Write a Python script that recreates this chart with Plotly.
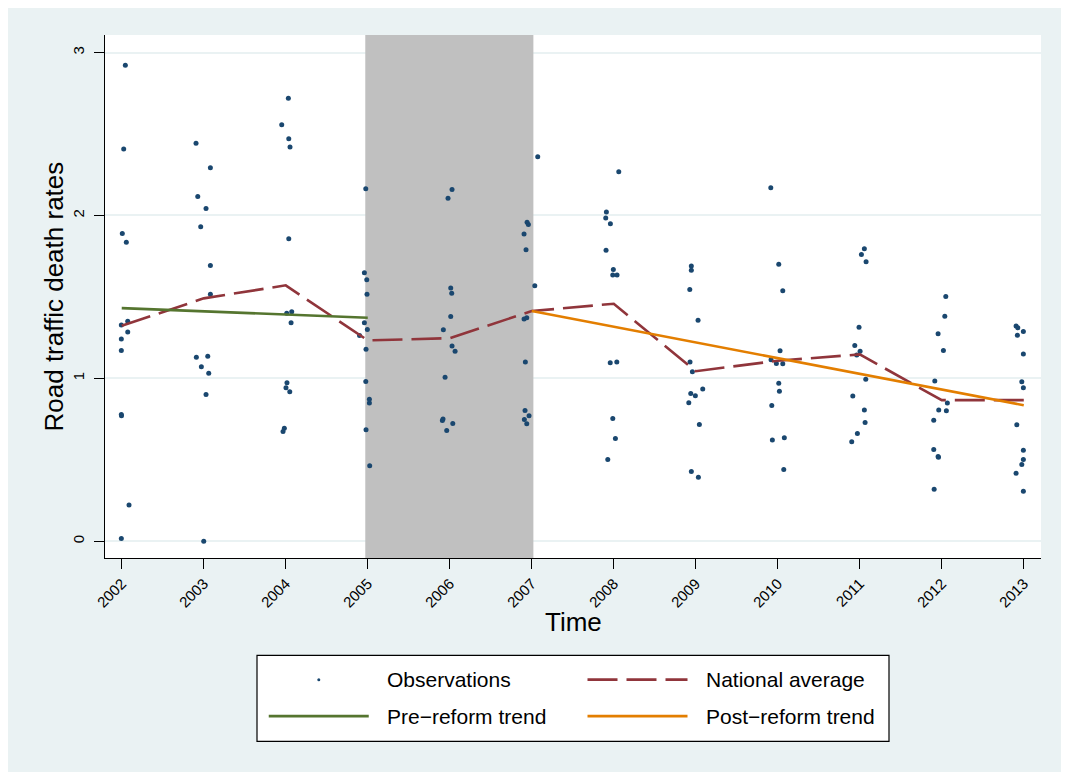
import plotly.graph_objects as go

# ---------------- data ----------------
years = list(range(2002, 2014))
year_labels = [str(y) for y in years]

obs_x = [
    2002.044, 2002.024, 2002.007, 2002.056, 2002.073, 2001.995, 2002.073, 2001.995, 2001.995, 2001.995, 2001.997, 2002.089, 2001.995,
    2002.906, 2003.081, 2002.927, 2003.028, 2002.963, 2003.081, 2003.081, 2002.910, 2003.049, 2002.971, 2003.061, 2003.028, 2003.000,
    2004.032, 2003.951, 2004.037, 2004.052, 2004.037, 2004.012, 2004.073, 2004.065, 2004.015, 2004.003, 2004.049, 2003.983, 2003.967,
    2004.976, 2004.959, 2004.988, 2004.991, 2004.959, 2004.995, 2004.900, 2004.979, 2004.976, 2005.020, 2005.020, 2004.979, 2005.024,
    2006.028, 2005.979, 2006.012, 2006.024, 2006.012, 2005.922, 2006.028, 2006.065, 2005.943, 2005.918, 2005.910, 2006.037, 2005.963,
    2007.073, 2006.943, 2006.959, 2006.906, 2006.930, 2007.037, 2006.906, 2006.939, 2006.922, 2006.918, 2006.967, 2006.910, 2006.939,
    2008.061, 2007.910, 2007.902, 2007.959, 2007.906, 2007.995, 2007.988, 2008.040, 2007.957, 2008.037, 2007.988, 2008.020, 2007.927,
    2008.927, 2008.946, 2008.946, 2009.028, 2008.930, 2008.959, 2009.085, 2008.939, 2008.995, 2008.915, 2009.044, 2008.946, 2009.032,
    2009.915, 2010.012, 2010.061, 2010.028, 2009.918, 2009.983, 2010.061, 2010.012, 2010.020, 2009.927, 2009.934, 2010.080, 2010.073,
    2011.056, 2011.020, 2011.077, 2010.991, 2010.939, 2011.004, 2010.963, 2011.073, 2010.915, 2011.056, 2011.065, 2010.971, 2010.902,
    2012.049, 2012.037, 2011.955, 2012.020, 2011.915, 2012.068, 2011.963, 2012.056, 2011.902, 2011.902, 2011.955, 2011.960, 2011.907,
    2012.906, 2012.927, 2012.995, 2012.922, 2012.995, 2012.976, 2012.995, 2012.915, 2012.995, 2012.995, 2012.976, 2012.906, 2012.995,
]
obs_y = [
    2.922, 2.408, 1.890, 1.835, 1.351, 1.327, 1.284, 1.241, 1.171, 0.778, 0.771, 0.223, 0.016,
    2.443, 2.293, 2.117, 2.043, 1.931, 1.693, 1.517, 1.130, 1.136, 1.071, 1.032, 0.901, 0.000,
    2.719, 2.557, 2.471, 2.420, 1.857, 1.399, 1.409, 1.341, 0.973, 0.942, 0.917, 0.694, 0.674,
    2.164, 1.648, 1.605, 1.517, 1.341, 1.300, 1.263, 1.179, 0.981, 0.872, 0.848, 0.684, 0.463,
    2.160, 2.105, 1.554, 1.523, 1.380, 1.298, 1.198, 1.167, 1.007, 0.751, 0.741, 0.723, 0.680,
    2.361, 1.959, 1.945, 1.886, 1.789, 1.568, 1.365, 1.372, 1.101, 0.803, 0.770, 0.747, 0.721,
    2.268, 2.021, 1.984, 1.949, 1.787, 1.669, 1.634, 1.634, 1.095, 1.100, 0.754, 0.631, 0.502,
    1.546, 1.689, 1.663, 1.357, 1.100, 1.040, 0.935, 0.907, 0.893, 0.850, 0.717, 0.428, 0.393,
    2.170, 1.701, 1.538, 1.169, 1.114, 1.091, 1.089, 0.970, 0.921, 0.833, 0.622, 0.635, 0.440,
    1.796, 1.761, 1.716, 1.314, 1.202, 1.167, 1.143, 0.995, 0.891, 0.805, 0.729, 0.661, 0.610,
    1.503, 1.382, 1.274, 1.171, 0.983, 0.848, 0.805, 0.801, 0.743, 0.563, 0.520, 0.516, 0.319,
    1.321, 1.310, 1.288, 1.265, 1.149, 0.979, 0.942, 0.715, 0.559, 0.502, 0.471, 0.418, 0.307,
]

national_avg = [1.323, 1.491, 1.571, 1.233, 1.247, 1.413, 1.458, 1.044, 1.108, 1.147, 0.866, 0.866]

pre_trend_x = [2002, 2005]
pre_trend_y = [1.431, 1.372]
post_trend_x = [2007, 2013]
post_trend_y = [1.413, 0.835]

shade_start = 2004.97
shade_end = 2007.02

y_range = [-0.103, 3.108]
x_range = [2001.796, 2013.21]
y_ticks = [0, 1, 2, 3]

# ---------------- styling ----------------
NAVY = "#1a476f"
MAROON = "#90353b"
GREEN = "#55752f"
ORANGE = "#e37e00"
SHADE = "#c0c0c0"
BG = "#eaf2f3"
FONT = "Liberation Sans, Arial, Helvetica, sans-serif"
DASH = "30px,9px"

# the page body adds an 8px offset, so figure coordinates are reference-8
OFF = 8
W, H = 1069 - OFF, 772 - OFF
PL, PR, PT, PB = 105 - OFF, 1041 - OFF, 35 - OFF, 557.7 - OFF  # plot area in pixels


def px2x(px):
    return (px - OFF - PL) / (PR - PL)


def py2y(py):
    return (PB - (py - OFF)) / (PB - PT)


fig = go.Figure()

# reform period shading (as a bar so gridlines stay underneath)
fig.add_trace(go.Bar(
    x=[(shade_start + shade_end) / 2], width=[shade_end - shade_start],
    base=[y_range[0]], y=[y_range[1] - y_range[0]],
    marker=dict(color=SHADE, line=dict(width=0)), hoverinfo="skip", showlegend=False,
))
fig.add_trace(go.Scatter(x=obs_x, y=obs_y, mode="markers", name="Observations",
                         marker=dict(color=NAVY, size=5), showlegend=False))
fig.add_trace(go.Scatter(x=years, y=national_avg, mode="lines", name="National average",
                         line=dict(color=MAROON, width=2.6, dash=DASH), showlegend=False))
fig.add_trace(go.Scatter(x=pre_trend_x, y=pre_trend_y, mode="lines", name="Pre-reform trend",
                         line=dict(color=GREEN, width=2.6), showlegend=False))
fig.add_trace(go.Scatter(x=post_trend_x, y=post_trend_y, mode="lines", name="Post-reform trend",
                         line=dict(color=ORANGE, width=2.6), showlegend=False))

shapes = []
# legend (drawn manually to mimic the boxed two-column layout); reference pixel coords
LX0, LX1, LY0, LY1 = 257, 889, 655, 741
ROW1, ROW2 = 679.3, 715.7
shapes.append(dict(type="rect", xref="paper", yref="paper",
                   x0=px2x(LX0), x1=px2x(LX1), y0=py2y(LY1), y1=py2y(LY0),
                   fillcolor="white", line=dict(color="black", width=1.2), layer="above"))
shapes.append(dict(type="circle", xref="paper", yref="paper",
                   x0=px2x(317.3), x1=px2x(320.3), y0=py2y(ROW1 + 1.5), y1=py2y(ROW1 - 1.5),
                   fillcolor=NAVY, line=dict(width=0), layer="above"))
shapes.append(dict(type="line", xref="paper", yref="paper",
                   x0=px2x(587.5), x1=px2x(687.5), y0=py2y(ROW1), y1=py2y(ROW1),
                   line=dict(color=MAROON, width=2.6, dash=DASH), layer="above"))
shapes.append(dict(type="line", xref="paper", yref="paper",
                   x0=px2x(268.75), x1=px2x(368.75), y0=py2y(ROW2), y1=py2y(ROW2),
                   line=dict(color=GREEN, width=2.6), layer="above"))
shapes.append(dict(type="line", xref="paper", yref="paper",
                   x0=px2x(587.5), x1=px2x(687.5), y0=py2y(ROW2), y1=py2y(ROW2),
                   line=dict(color=ORANGE, width=2.6), layer="above"))

legend_texts = [
    ("Observations", 385, ROW1),
    ("National average", 704, ROW1),
    ("Pre\u2212reform trend", 385, ROW2),
    ("Post\u2212reform trend", 704, ROW2),
]
annotations = [
    dict(text=t, xref="paper", yref="paper", x=px2x(xp), y=py2y(yp),
         xanchor="left", yanchor="middle", showarrow=False,
         font=dict(family=FONT, size=21, color="black"))
    for t, xp, yp in legend_texts
]
# axis titles
annotations.append(dict(text="Road traffic death rates", xref="paper", yref="paper",
                        x=px2x(53), y=0.5, xanchor="center", yanchor="middle",
                        textangle=-90, showarrow=False,
                        font=dict(family=FONT, size=26, color="black")))
annotations.append(dict(text="Time", xref="paper", yref="paper",
                        x=0.5, y=py2y(622), xanchor="center", yanchor="middle",
                        showarrow=False,
                        font=dict(family=FONT, size=26, color="black")))

fig.update_layout(
    width=W, height=H, autosize=False,
    margin=dict(l=PL, r=W - PR, t=PT, b=H - PB, pad=0),
    paper_bgcolor=BG, plot_bgcolor="white",
    font=dict(family=FONT, color="black"),
    shapes=shapes, annotations=annotations,
    showlegend=False, barmode="overlay",
)

fig.update_xaxes(
    range=x_range, tickmode="array", tickvals=years, ticktext=year_labels,
    tickangle=-45, ticks="outside", ticklen=10, tickwidth=1.2, tickcolor="black",
    showline=True, linecolor="black", linewidth=1.2, showgrid=False, zeroline=False,
    tickfont=dict(family=FONT, size=15, color="black"),
)
fig.update_yaxes(
    range=y_range, tickmode="array", tickvals=y_ticks, ticktext=[str(t) for t in y_ticks],
    tickangle=-90, ticks="outside", ticklen=10, tickwidth=1.2, tickcolor="black",
    ticklabelstandoff=4,
    showline=True, linecolor="black", linewidth=1.2, showgrid=True, gridcolor=BG, gridwidth=2,
    zeroline=False,
    tickfont=dict(family=FONT, size=15, color="black"),
)

fig.write_html("out.html")
